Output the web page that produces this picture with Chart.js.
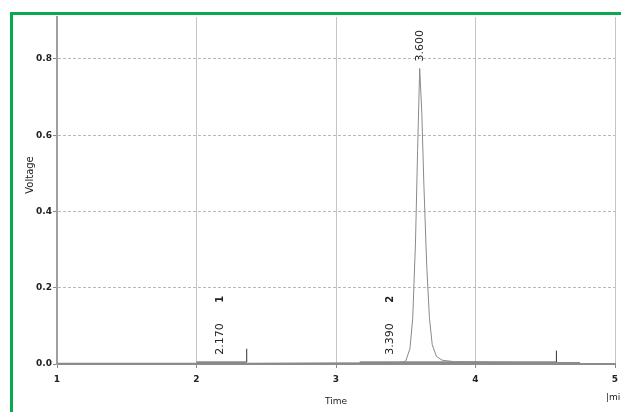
<!DOCTYPE html>
<html>
<head>
<meta charset="utf-8">
<script src="https://cdn.jsdelivr.net/npm/chart.js@4.4.1/dist/chart.umd.min.js"></script>
<style>
  html, body { margin: 0; padding: 0; background: #fff; }
  #wrap { position: relative; width: 621px; height: 412px; overflow: hidden; }
  #frame { position: absolute; left: 10px; top: 12px; width: 700px; height: 500px;
           border-top: 3px solid #0aa84f; border-left: 3px solid #0aa84f; pointer-events: none; }
  canvas { position: absolute; left: 0; top: 0; }
</style>
</head>
<body>
<div id="wrap">
  <canvas id="myChart" width="621" height="412"></canvas>
  <div id="frame"></div>
</div>
<script>
// chromatogram trace (time in min, voltage)
var traceTime = [1.00, 2.00, 2.36, 3.00, 3.40, 3.48, 3.50, 3.53, 3.55, 3.57, 3.585, 3.60, 3.615, 3.63, 3.65, 3.67, 3.69, 3.72, 3.76, 3.85, 4.30, 4.75];
var traceVolt = [0.002, 0.002, 0.002, 0.003, 0.003, 0.005, 0.008, 0.04, 0.12, 0.32, 0.56, 0.775, 0.66, 0.47, 0.26, 0.12, 0.05, 0.02, 0.01, 0.006, 0.004, 0.004];

// integration baselines with end ticks
var base1Time = [2.00, 2.36, 2.36];
var base1Volt = [0.005, 0.005, 0.04];
var base2Time = [3.17, 4.58, 4.58];
var base2Volt = [0.005, 0.005, 0.035];

// peak annotations
var peakTimes = [2.17, 3.39, 3.60];
var peakText = ['2.170', '3.390', '3.600'];
var peakTextVolt = [0.024, 0.024, 0.793];
var peakNums = ['1', '2', ''];
var peakNumVolt = [0.17, 0.17, 0];

var yTicks = [0, 0.2, 0.4, 0.6, 0.8];

function pts(xs, ys) {
    return xs.map(function (x, i) { return {x: x, y: ys[i]}; });
}

var labelPlugin = {
    id: 'peakLabels',
    afterDraw: function (chart) {
        var c = chart.ctx, xs = chart.scales.x, ys = chart.scales.y;
        c.save();
        c.fillStyle = '#222';
        c.font = '11px "DejaVu Sans"';
        c.textBaseline = 'middle';
        for (var i = 0; i < peakTimes.length; i++) {
            var px = xs.getPixelForValue(peakTimes[i]);
            c.save();
            c.translate(px, ys.getPixelForValue(peakTextVolt[i]));
            c.rotate(-Math.PI / 2);
            c.textAlign = 'left';
            c.fillText(peakText[i], 0, 0);
            c.restore();
            if (peakNums[i]) {
                c.save();
                c.translate(px, ys.getPixelForValue(peakNumVolt[i]));
                c.rotate(-Math.PI / 2);
                c.textAlign = 'center';
                c.font = 'bold 10px "DejaVu Sans"';
                c.fillText(peakNums[i], 0, 0);
                c.restore();
            }
        }
        // axis titles
        c.font = '10px "DejaVu Sans"';
        c.textAlign = 'center';
        c.save();
        c.translate(30, 175);
        c.rotate(-Math.PI / 2);
        c.fillText('Voltage', 0, 0);
        c.restore();
        c.font = '9px "DejaVu Sans"';
        c.fillText('Time', chart.chartArea.left + (chart.chartArea.right - chart.chartArea.left) / 2, 402);
        c.textAlign = 'left';
        c.fillText('|min', 606, 398);
        c.restore();
    }
};

var ctx = document.getElementById('myChart').getContext('2d');

var myChart = new Chart(ctx, {
    type: 'scatter',
    data: {
        datasets: [{
            data: pts(traceTime, traceVolt),
            showLine: true,
            borderColor: '#8a8a8a',
            borderWidth: 1,
            pointRadius: 0
        }, {
            data: pts(base1Time, base1Volt),
            showLine: true,
            borderColor: '#333',
            borderWidth: 1,
            pointRadius: 0
        }, {
            data: pts(base2Time, base2Volt),
            showLine: true,
            borderColor: '#333',
            borderWidth: 1,
            pointRadius: 0
        }]
    },
    options: {
        responsive: false,
        animation: false,
        devicePixelRatio: 1,
        layout: { padding: { top: 17, right: 6, left: 0, bottom: 0 } },
        plugins: { legend: { display: false }, tooltip: { enabled: false } },
        scales: {
            x: {
                type: 'linear',
                min: 1,
                max: 5,
                afterFit: function (s) { s.height = 48; s.paddingRight = 0; },
                ticks: { stepSize: 1, color: '#222', padding: 6, font: { family: 'DejaVu Sans', size: 9, weight: 'bold' } },
                grid: { color: '#c4c4c4', lineWidth: 1, tickLength: 4, tickColor: '#888' },
                border: { color: '#8c8c8c', width: 2 }
            },
            y: {
                min: 0,
                max: 0.91,
                afterFit: function (s) { s.width = 57; },
                afterBuildTicks: function (s) {
                    s.ticks = yTicks.map(function (v) { return {value: v}; });
                },
                ticks: {
                    color: '#222', padding: 1,
                    font: { family: 'DejaVu Sans', size: 9, weight: 'bold' },
                    callback: function (v) { return Number(v).toFixed(1); }
                },
                grid: { color: '#b8b8b8', lineWidth: 1, tickLength: 4, tickColor: '#888' },
                border: { color: '#a0a0a0', width: 2, dash: [3, 2] }
            }
        }
    },
    plugins: [labelPlugin]
});
</script>
</body>
</html>
